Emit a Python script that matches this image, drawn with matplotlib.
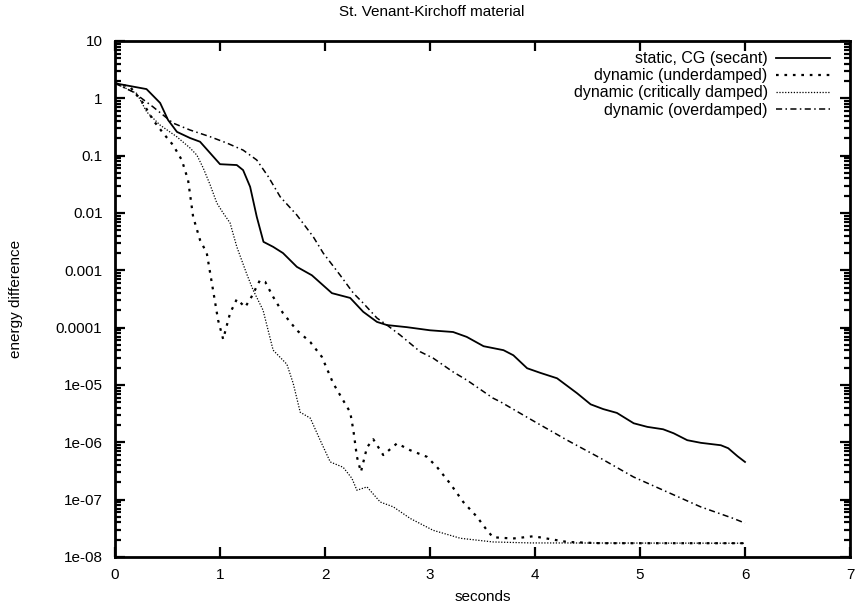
import matplotlib
matplotlib.use("Agg")
import matplotlib.pyplot as plt
from matplotlib.ticker import LogLocator, NullFormatter, FixedLocator

plt.rcParams['font.family'] = ['Liberation Sans', 'DejaVu Sans']

# static, CG (secant)
t_static = [0.0, 0.30, 0.43, 0.505, 0.59, 0.715, 0.81, 0.906, 1.00, 1.16, 1.22, 1.287,
            1.35, 1.414, 1.506, 1.60, 1.732, 1.875, 2.066, 2.24, 2.364, 2.495, 2.59,
            2.78, 3.00, 3.22, 3.35, 3.51, 3.70, 3.794, 3.925, 4.05, 4.21, 4.40, 4.53,
            4.65, 4.78, 4.94, 5.07, 5.22, 5.32, 5.45, 5.58, 5.77, 5.84, 5.93, 6.0]
e_static = [1.83, 1.45, 0.83, 0.42, 0.26, 0.203, 0.175, 0.111, 0.071, 0.0686, 0.056, 0.0286,
            0.0086, 0.00314, 0.00257, 0.0020, 0.00115, 0.00082, 0.0004, 0.00033, 0.000189,
            0.000126, 0.000111, 0.000102, 9.0e-5, 8.4e-5, 6.9e-5, 4.75e-5, 4.05e-5, 3.3e-5,
            1.96e-5, 1.63e-5, 1.31e-5, 7.2e-6, 4.6e-6, 3.8e-6, 3.26e-6, 2.15e-6, 1.86e-6,
            1.69e-6, 1.44e-6, 1.09e-6, 9.8e-7, 8.9e-7, 7.9e-7, 5.7e-7, 4.55e-7]

# dynamic (underdamped)
t_under = [0.0, 0.143, 0.267, 0.362, 0.458, 0.553, 0.636, 0.696, 0.744, 0.81, 0.874, 0.934,
           0.982, 1.03, 1.096, 1.16, 1.24, 1.30, 1.38, 1.43, 1.506, 1.60, 1.732, 1.86, 1.97,
           2.078, 2.173, 2.24, 2.27, 2.304, 2.342, 2.40, 2.46, 2.555, 2.686, 2.81, 2.97,
           3.067, 3.19, 3.317, 3.448, 3.543, 3.60, 3.79, 3.985, 4.306, 4.62, 6.0]
e_under = [1.83, 1.59, 0.83, 0.42, 0.248, 0.153, 0.084, 0.0375, 0.0086, 0.00337, 0.0020,
           0.00045, 0.000135, 6.3e-5, 0.000179, 0.000314, 0.000228, 0.000345, 0.00067,
           0.00063, 0.000345, 0.000179, 9.0e-5, 5.6e-5, 3.1e-5, 1.07e-5, 5.4e-6, 3.35e-6,
           1.63e-6, 5.6e-7, 3.04e-7, 8.2e-7, 1.13e-6, 6.0e-7, 9.6e-7, 7.3e-7, 5.6e-7,
           3.7e-7, 1.93e-7, 9.1e-8, 5.0e-8, 2.92e-8, 2.21e-8, 2.1e-8, 2.3e-8, 1.83e-8,
           1.74e-8, 1.74e-8]

# dynamic (critically damped)
t_crit = [0.0, 0.207, 0.302, 0.429, 0.588, 0.715, 0.78, 0.84, 0.906, 0.97, 1.03, 1.096,
          1.16, 1.255, 1.316, 1.41, 1.506, 1.637, 1.697, 1.764, 1.86, 1.954, 2.05, 2.173,
          2.256, 2.304, 2.40, 2.526, 2.65, 2.812, 3.03, 3.29, 3.60, 3.956, 6.0]
e_crit = [1.83, 1.22, 0.58, 0.342, 0.214, 0.136, 0.102, 0.061, 0.031, 0.0149, 0.010, 0.0067,
          0.00257, 0.00086, 0.00045, 0.000202, 4.05e-5, 2.3e-5, 1.07e-5, 3.35e-6, 2.64e-6,
          1.09e-6, 4.55e-7, 3.67e-7, 2.36e-7, 1.46e-7, 1.67e-7, 9.1e-8, 7.5e-8, 4.7e-8,
          2.92e-8, 2.12e-8, 1.83e-8, 1.76e-8, 1.74e-8]

# dynamic (overdamped)
t_over = [0.0, 0.17, 0.362, 0.553, 0.715, 0.906, 1.065, 1.22, 1.35, 1.46, 1.573, 1.732,
          1.888, 1.983, 2.145, 2.27, 2.364, 2.495, 2.59, 2.717, 2.907, 3.03, 3.22, 3.353,
          3.60, 3.67, 3.985, 4.306, 4.623, 4.938, 5.26, 5.577, 5.89, 6.0]
e_over = [1.83, 1.30, 0.71, 0.37, 0.28, 0.214, 0.166, 0.125, 0.084, 0.043, 0.0192, 0.0092,
          0.00385, 0.0020, 0.00082, 0.0004, 0.000268, 0.000147, 0.000111, 7.4e-5, 3.8e-5,
          2.94e-5, 1.69e-5, 1.21e-5, 5.9e-6, 5.1e-6, 2.36e-6, 1.09e-6, 5.3e-7, 2.49e-7,
          1.36e-7, 7.5e-8, 4.7e-8, 3.9e-8]

labels = ["static, CG (secant)", "dynamic (underdamped)",
          "dynamic (critically damped)", "dynamic (overdamped)"]
y_ticks = [10, 1, 0.1, 0.01, 0.001, 0.0001, 1e-5, 1e-6, 1e-7, 1e-8]
y_ticklabels = ["10", "1", "0.1", "0.01", "0.001", "0.0001", "1e-05", "1e-06", "1e-07", "1e-08"]
x_ticks = [0, 1, 2, 3, 4, 5, 6, 7]

fig = plt.figure(figsize=(8.63, 6.12), dpi=100)
ax = fig.add_axes([115/863, 1 - 557/612, (850 - 115)/863, (557 - 41)/612])

ax.plot(t_static, e_static, color='black', lw=1.3, ls='-', label=labels[0])
ax.plot(t_under, e_under, color='black', lw=1.6, ls=(0, (1.2, 2.6)), label=labels[1])
ax.plot(t_crit, e_crit, color='black', lw=0.9, ls=(0, (1, 1.3)), label=labels[2])
ax.plot(t_over, e_over, color='black', lw=1.1, ls=(0, (4, 2.2, 1, 2.2)), label=labels[3])

ax.set_yscale('log')
ax.set_xlim(0, 7)
ax.set_ylim(1e-8, 10)
ax.set_xticks(x_ticks)
ax.set_xticklabels([str(v) for v in x_ticks])
ax.yaxis.set_major_locator(FixedLocator(y_ticks))
ax.set_yticklabels(y_ticklabels)
ax.yaxis.set_minor_locator(LogLocator(base=10, subs=[2, 3, 4, 5, 6, 7, 8, 9], numticks=20))
ax.yaxis.set_minor_formatter(NullFormatter())

ax.tick_params(which='both', direction='in', top=True, right=True, labelsize=11, width=1.6)
ax.tick_params(which='major', length=7, pad=9)
ax.tick_params(which='minor', length=4)
ax.tick_params(axis='x', pad=8)
for s in ax.spines.values():
    s.set_linewidth(2.0)

ax.set_xlabel("seconds", fontsize=11, labelpad=6)
ax.set_ylabel("energy difference", fontsize=11, labelpad=24)
fig.text(0.5, 1 - 12/612, "St. Venant-Kirchoff material", ha='center', va='center', fontsize=11)

leg = ax.legend(loc='upper right', bbox_to_anchor=(0.9728, 0.980), frameon=False,
                markerfirst=False, fontsize=11.5, handlelength=3.4, handletextpad=0.5,
                labelspacing=0.13, borderaxespad=0.0, borderpad=0.0)

fig.savefig("out.png", dpi=100)
